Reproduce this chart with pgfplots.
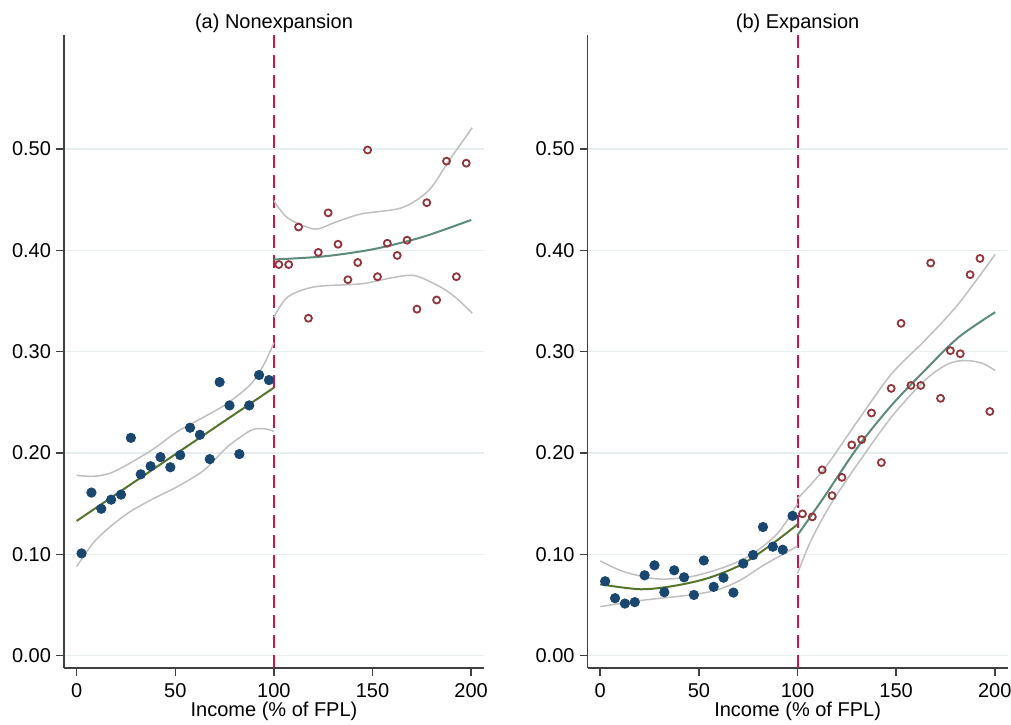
\documentclass[border=0pt]{standalone}
\usepackage{pgfplots}
\pgfplotsset{compat=1.18}
\usepackage{fontspec}
\setmainfont{Liberation Sans}
\definecolor{navy}{HTML}{1A476F}
\definecolor{maroon}{HTML}{90353B}
\definecolor{fitgreen}{HTML}{55752F}
\definecolor{fitteal}{HTML}{5E8A7A}
\definecolor{cutred}{HTML}{C8174A}
\definecolor{cigray}{HTML}{BFBFBF}
\definecolor{gridc}{HTML}{E6EEF0}
\definecolor{axisc}{HTML}{404040}
\pgfplotsset{
  panel/.style={
    scale only axis, width=210pt, height=316.5pt,
    xmin=-6.4, xmax=206.5, ymin=-0.0121, ymax=0.6125,
    axis x line*=bottom, axis y line*=left,
    axis line style={color=axisc, line width=0.75pt},
    tick style={color=axisc, line width=0.75pt},
    tick align=outside, major tick length=4pt,
    xtick={0,50,100,150,200},
    ytick={0,0.1,0.2,0.3,0.4,0.5},
    yticklabels={0.00,0.10,0.20,0.30,0.40,0.50},
    yticklabel style={xshift=1pt},
    ymajorgrids, grid style={color=gridc, line width=0.7pt},
    tick label style={font=\fontsize{10}{12}\selectfont},
    /pgf/number format/assume math mode=true,
    label style={font=\fontsize{10}{12}\selectfont},
    title style={font=\fontsize{10}{12}\selectfont, at={(axis description cs:0.5,1)}, anchor=base, yshift=-3pt, inner sep=0pt},
    xlabel={Income (\% of FPL)},
    xlabel style={at={(axis description cs:0.5,0)}, anchor=base, yshift=-24.2pt, inner sep=0pt},
    clip=false,
  },
  dots/.style={only marks, mark=*, mark size=2.35pt, color=navy, mark options={fill=navy, draw=navy}},
  rings/.style={only marks, mark=o, mark size=1.75pt, color=maroon, mark options={line width=0.9pt}},
  ci/.style={no marks, smooth, color=cigray, line width=0.75pt},
  cut/.style={no marks, color=cutred, line width=1pt, dash pattern=on 6.5pt off 3.5pt},
}
\begin{document}
\begin{tikzpicture}
\useasboundingbox (0,0) rectangle (505.5pt,362pt);
% ---------------- Panel (a)
\begin{axis}[panel, at={(32pt,28pt)}, anchor=south west, title={(a) Nonexpansion}]
\addplot[cut] coordinates {(100,-0.0121) (100,0.6125)};
\addplot[ci] coordinates {(0,0.178) (8.3,0.177) (16.8,0.180) (27,0.190) (38.9,0.204) (50.9,0.221) (64.5,0.2355) (76.4,0.249) (88.3,0.268) (95.1,0.288) (100,0.309)};
\addplot[ci] coordinates {(0,0.088) (8.3,0.111) (16.8,0.127) (27,0.142) (38.9,0.155) (50.9,0.1667) (64.5,0.183) (76.4,0.206) (88.3,0.2224) (95.1,0.224) (100,0.2215)};
\addplot[ci] coordinates {(100,0.449) (107,0.432) (120.6,0.421) (130.8,0.4275) (144.4,0.436) (164.8,0.442) (178.4,0.459) (188.6,0.488) (200.5,0.521)};
\addplot[ci] coordinates {(100,0.334) (107,0.354) (120.6,0.364) (144.4,0.367) (160,0.373) (171.6,0.375) (185.2,0.363) (193,0.352) (200.5,0.338)};
\addplot[no marks, color=fitgreen, line width=1pt] coordinates {(0,0.133) (100,0.2645)};
\addplot[no marks, smooth, color=fitteal, line width=1pt] coordinates {(100,0.391) (125,0.394) (150,0.401) (175,0.413) (200,0.430)};
\addplot[dots] coordinates {
(2.5,0.101) (7.5,0.161) (12.5,0.145) (17.5,0.154) (22.5,0.159)
(27.5,0.215) (32.5,0.179) (37.5,0.187) (42.5,0.196) (47.5,0.186)
(52.5,0.198) (57.5,0.225) (62.5,0.218) (67.5,0.194) (72.5,0.270)
(77.5,0.247) (82.5,0.199) (87.5,0.247) (92.5,0.277) (97.5,0.272)};
\addplot[rings] coordinates {
(102.5,0.386) (107.5,0.386) (112.5,0.423) (117.5,0.333) (122.5,0.398)
(127.5,0.437) (132.5,0.406) (137.5,0.371) (142.5,0.388) (147.5,0.499)
(152.5,0.374) (157.5,0.407) (162.5,0.395) (167.5,0.410) (172.5,0.342)
(177.5,0.447) (182.5,0.351) (187.5,0.488) (192.5,0.374) (197.5,0.486)};
\end{axis}
% ---------------- Panel (b)
\begin{axis}[panel, at={(293.8pt,28pt)}, anchor=south west, title={(b) Expansion}]
\addplot[cut] coordinates {(100,-0.0121) (100,0.6125)};
\addplot[ci] coordinates {(0,0.0935) (11.9,0.083) (28.8,0.0758) (45.8,0.078) (62.8,0.0873) (76.3,0.0994) (89.9,0.1207) (100,0.150)};
\addplot[ci] coordinates {(0,0.0485) (20.4,0.0545) (45.8,0.060) (59.4,0.065) (71.2,0.0748) (83.1,0.0896) (100,0.108)};
\addplot[ci] coordinates {(100,0.155) (113.6,0.1845) (130.6,0.232) (147.6,0.278) (164.5,0.311) (181.5,0.347) (200.2,0.396)};
\addplot[ci] coordinates {(100,0.081) (106.9,0.114) (117,0.150) (130.6,0.1896) (147.6,0.2355) (164.5,0.2717) (176.4,0.288) (185,0.2913) (193.5,0.2887) (200.2,0.2815)};
\addplot[no marks, smooth, color=fitgreen, line width=1pt] coordinates {(0,0.0705) (20.4,0.0656) (37.3,0.0689) (54.3,0.0764) (71.2,0.0896) (86.5,0.1093) (100,0.1296)};
\addplot[no marks, smooth, color=fitteal, line width=1pt] coordinates {(100,0.119) (113.6,0.157) (130.6,0.206) (147.6,0.247) (164.5,0.2815) (181.5,0.314) (200.2,0.339)};
\addplot[dots] coordinates {
(2.5,0.0735) (7.5,0.0568) (12.5,0.0515) (17.5,0.0529) (22.5,0.0794)
(27.5,0.0892) (32.5,0.0627) (37.5,0.0843) (42.5,0.0774) (47.5,0.060)
(52.5,0.094) (57.5,0.068) (62.5,0.077) (67.5,0.0623) (72.5,0.091)
(77.5,0.0994) (82.5,0.127) (87.5,0.1076) (92.5,0.1046) (97.5,0.138)};
\addplot[rings] coordinates {
(102.5,0.140) (107.5,0.137) (112.5,0.1834) (117.5,0.158) (122.5,0.176)
(127.5,0.208) (132.5,0.2133) (137.5,0.2395) (142.5,0.1906) (147.5,0.2638)
(152.5,0.328) (157.5,0.2667) (162.5,0.2667) (167.5,0.3875) (172.5,0.254)
(177.5,0.301) (182.5,0.298) (187.5,0.376) (192.5,0.392) (197.5,0.241)};
\end{axis}
\end{tikzpicture}
\end{document}
